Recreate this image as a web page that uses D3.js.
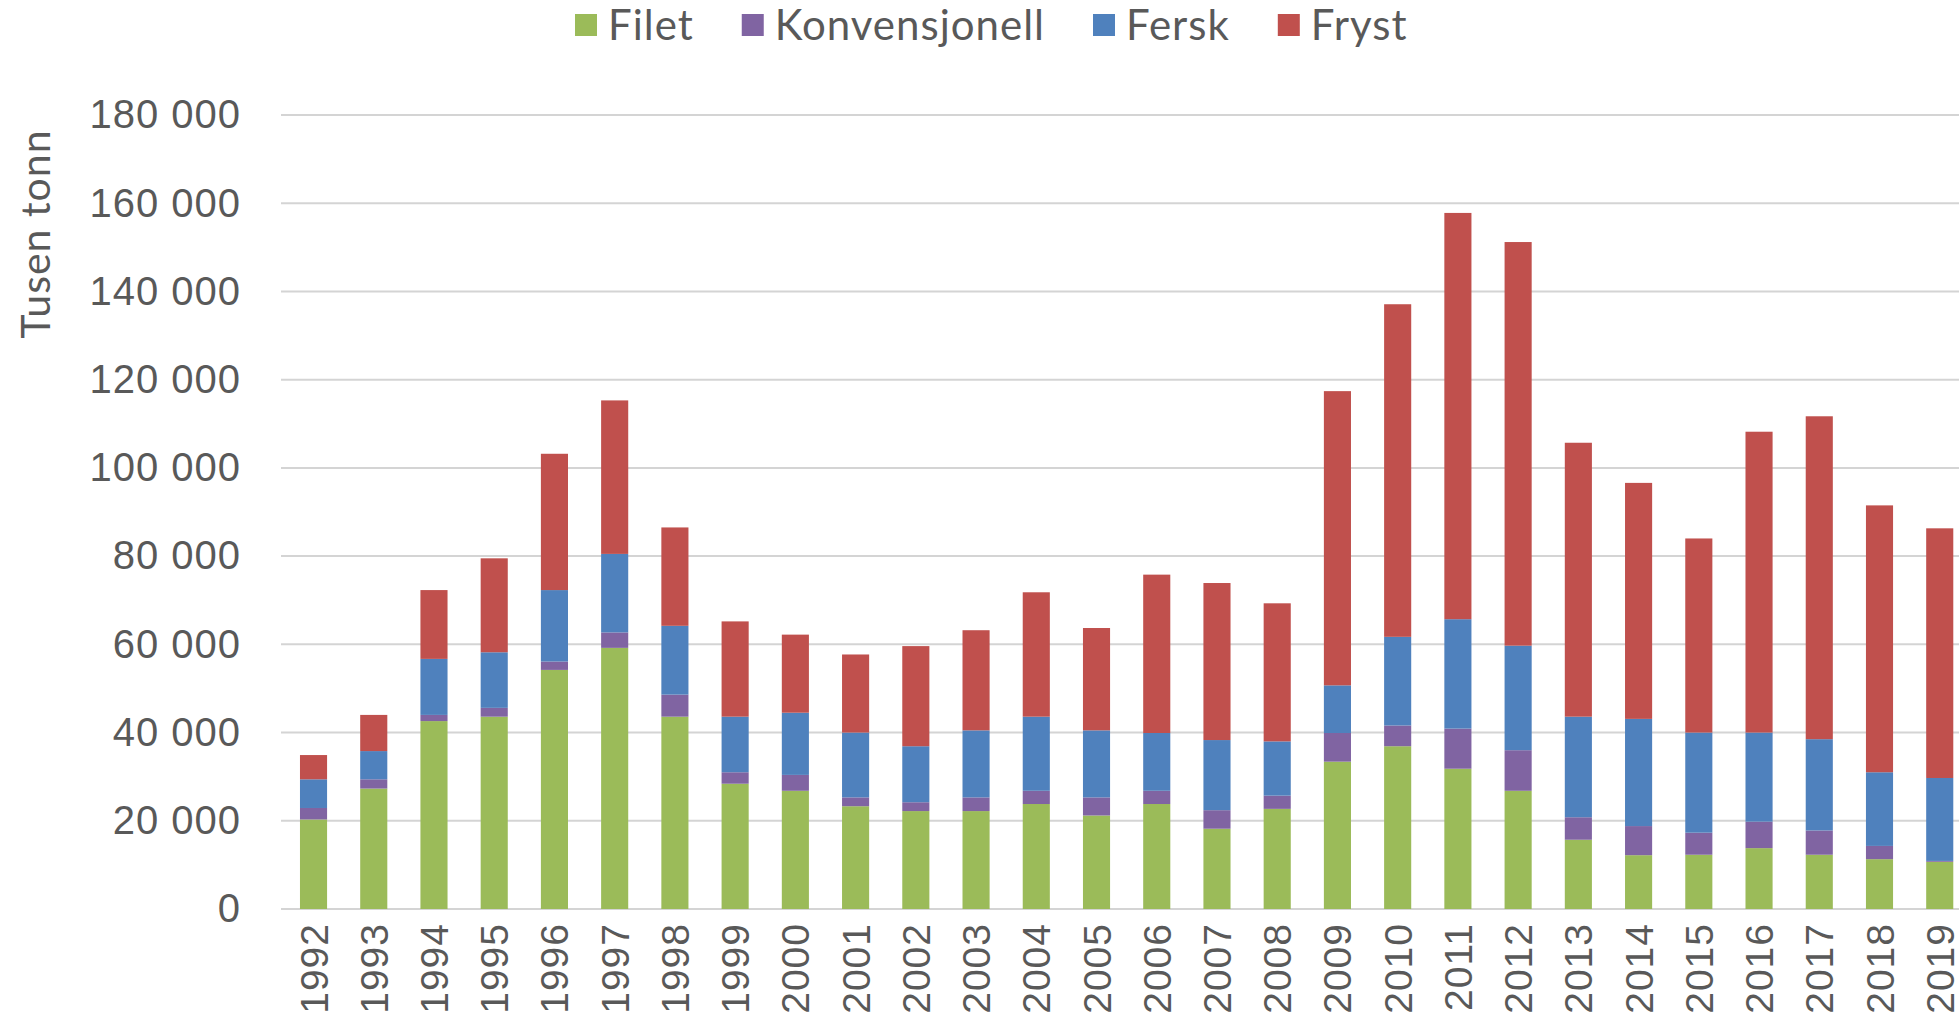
<!DOCTYPE html>
<html>
<head>
<meta charset="utf-8">
<script src="https://cdn.jsdelivr.net/npm/d3@7"></script>
<style>
    body { margin: 0; background: #fff; }
    svg { display: block; font-family: Lato, "Open Sans", sans-serif; }
    .tick text { fill: #595959; }
</style>
</head>
<body>
<svg id="chart" width="1959" height="1023"></svg>
<script>
// values in tonn
var years = ["1992", "1993", "1994", "1995", "1996", "1997", "1998", "1999", "2000", "2001",
    "2002", "2003", "2004", "2005", "2006", "2007", "2008", "2009", "2010", "2011",
    "2012", "2013", "2014", "2015", "2016", "2017", "2018", "2019"];
var filet = [20300, 27300, 42600, 43600, 54200, 59200, 43600, 28400, 26800, 23300,
    22200, 22200, 23800, 21200, 23800, 18200, 22700, 33400, 36900, 31800,
    26800, 15700, 12200, 12300, 13800, 12300, 11300, 10700];
var konvensjonell = [2600, 2100, 1400, 2000, 1900, 3500, 5000, 2600, 3600, 2000,
    2000, 3100, 3000, 4100, 3000, 4200, 3000, 6500, 4700, 9100,
    9200, 5100, 6600, 5000, 6000, 5500, 3000, 200];
var fersk = [6500, 6400, 12700, 12600, 16200, 17800, 15600, 12600, 14100, 14700,
    12700, 15200, 16800, 15200, 13100, 15900, 12300, 10800, 20100, 24800,
    23700, 22800, 24300, 22700, 20200, 20700, 16700, 18800];
var fryst = [5500, 8200, 15600, 21300, 30900, 34800, 22300, 21600, 17700, 17700,
    22700, 22700, 28200, 23200, 35900, 35600, 31300, 66700, 75400, 92100,
    91500, 62100, 53500, 44000, 68200, 73200, 60500, 56600];
var seriesNames = ["Filet", "Konvensjonell", "Fersk", "Fryst"];
var seriesColors = ["#9bbb59", "#8064a2", "#4f81bd", "#c0504d"];
var yTicks = [0, 20000, 40000, 60000, 80000, 100000, 120000, 140000, 160000, 180000];

var svg = d3.select("#chart"),
    margin = { top: 115, left: 281, bottom: 114 },
    step = 60.23,
    width = step * 28.08,
    height = +svg.attr("height") - margin.top - margin.bottom;

var rows = years.map(function (y, i) {
    return { year: y, Filet: filet[i], Konvensjonell: konvensjonell[i], Fersk: fersk[i], Fryst: fryst[i] };
});
var stacked = d3.stack().keys(seriesNames)(rows);

var x = d3.scaleBand().domain(years).range([0, width]).paddingInner(0.55).paddingOuter(0.315),
    y = d3.scaleLinear().domain([0, 180000]).range([height, 0]);

var g = svg.append("g")
    .attr("transform", "translate(" + margin.left + "," + margin.top + ")");

// gridlines
g.append("g")
    .selectAll("line")
    .data(yTicks)
    .enter().append("line")
    .attr("x1", 0)
    .attr("x2", width)
    .attr("y1", function (d) { return y(d); })
    .attr("y2", function (d) { return y(d); })
    .attr("stroke", "#d4d4d4")
    .attr("stroke-width", 2);

var fmt = function (d) { return d3.format(",")(d).replace(/,/g, " "); };

var yAxis = g.append("g")
    .call(d3.axisLeft(y).tickValues(yTicks).tickFormat(fmt).tickSize(0).tickPadding(40));
yAxis.select(".domain").remove();
yAxis.selectAll("text").style("font-size", "40px").style("letter-spacing", "1px");

var xAxis = g.append("g")
    .attr("transform", "translate(0," + height + ")")
    .call(d3.axisBottom(x).tickSize(0));
xAxis.select(".domain").remove();
xAxis.selectAll("text")
    .style("font-size", "39px")
    .style("letter-spacing", "1px")
    .attr("transform", "rotate(-90)")
    .attr("text-anchor", "end")
    .attr("x", -14)
    .attr("y", 0)
    .attr("dy", "0.36em");

g.append("g")
    .selectAll("g")
    .data(stacked)
    .enter().append("g")
    .attr("fill", function (d, i) { return seriesColors[i]; })
    .selectAll("rect")
    .data(function (d) { return d; })
    .enter().append("rect")
    .attr("x", function (d) { return x(d.data.year); })
    .attr("y", function (d) { return y(d[1]); })
    .attr("width", x.bandwidth())
    .attr("height", function (d) { return y(d[0]) - y(d[1]); });

// y axis title
svg.append("text")
    .attr("transform", "translate(50,234) rotate(-90)")
    .attr("text-anchor", "middle")
    .attr("fill", "#595959")
    .style("font-size", "41px")
    .style("letter-spacing", "1px")
    .text("Tusen tonn");

// legend
var legend = svg.append("g").attr("transform", "translate(575,25)");
var lx = 0;
seriesNames.forEach(function (name, i) {
    var item = legend.append("g").attr("transform", "translate(" + lx + ",0)");
    item.append("rect")
        .attr("x", 0).attr("y", -11)
        .attr("width", 22).attr("height", 22)
        .attr("fill", seriesColors[i]);
    var t = item.append("text")
        .attr("x", 33).attr("dy", "0.36em")
        .attr("fill", "#595959")
        .style("font-size", "42px")
        .style("letter-spacing", "1px")
        .text(name);
    lx += 33 + t.node().getComputedTextLength() + 48;
});
</script>
</body>
</html>
